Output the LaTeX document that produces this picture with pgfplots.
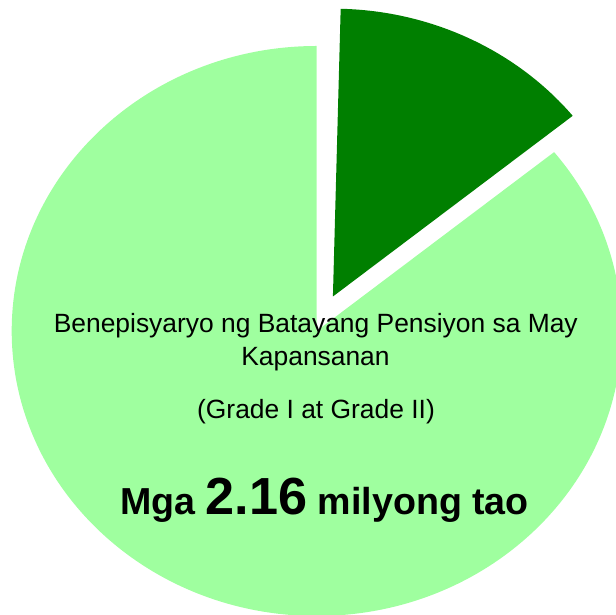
\documentclass[border=0pt]{standalone}
\usepackage{pgfplots}
\pgfplotsset{compat=1.18}
\usepackage{pgfplotstable}
\usepackage{fontspec}
\setmainfont{Liberation Sans}
\definecolor{lightg}{HTML}{9FFF9F}
\definecolor{darkg}{HTML}{007F00}

\pgfplotstableread{
label value
GradeIatII 85.8
Iba 13.8
Puwang 0.4
}\piedata

\begin{document}
\begin{tikzpicture}
\pgfplotstablegetelem{0}{value}\of\piedata \let\vA\pgfplotsretval
\pgfplotstablegetelem{1}{value}\of\piedata \let\vB\pgfplotsretval
\pgfplotstablegetelem{2}{value}\of\piedata \let\vC\pgfplotsretval
% geometry (pixel units, y up)
\pgfmathsetmacro{\cx}{316.7}
\pgfmathsetmacro{\cy}{284}
\pgfmathsetmacro{\rx}{305}
\pgfmathsetmacro{\ry}{285}
% light slice
\pgfmathsetmacro{\aS}{90}
\pgfmathsetmacro{\aE}{90+3.6*\vA}
% dark slice
\pgfmathsetmacro{\bE}{90-3.6*\vC}
\pgfmathsetmacro{\bS}{\bE-3.6*\vB}
\pgfmathsetmacro{\bM}{(\bS+\bE)/2}
\pgfmathsetmacro{\dx}{\cx+0.12*\rx*cos(\bM)}
\pgfmathsetmacro{\dy}{\cy+0.135*\ry*sin(\bM)}
\pgfmathsetmacro{\pAx}{\cx+\rx*cos(\aS)}
\pgfmathsetmacro{\pAy}{\cy+\ry*sin(\aS)}
\pgfmathsetmacro{\pBx}{\dx+1.01*\rx*cos(\bS)}
\pgfmathsetmacro{\pBy}{\dy+1.01*\ry*sin(\bS)}
\begin{axis}[
  width=308pt, height=307.5pt, scale only axis,
  xmin=0, xmax=616, ymin=0, ymax=615,
  hide axis,
]
\fill[lightg] (axis cs:\cx,\cy) -- (axis cs:\pAx,\pAy)
  arc[start angle=\aS, end angle=\aE, x radius=152.5pt, y radius=142.5pt] -- cycle;
\fill[darkg] (axis cs:\dx,\dy) -- (axis cs:\pBx,\pBy)
  arc[start angle=\bS, end angle=\bE, x radius=154pt, y radius=143.9pt] -- cycle;
\node[anchor=base, inner sep=0pt] at (axis cs:315.8,282.7)
  {\fontsize{13.2}{14}\selectfont Benepisyaryo ng Batayang Pensiyon sa May};
\node[anchor=base, inner sep=0pt] at (axis cs:315.5,249.3)
  {\fontsize{13.2}{14}\selectfont Kapansanan};
\node[anchor=base, inner sep=0pt] at (axis cs:316,196)
  {\fontsize{13.2}{14}\selectfont (Grade I at Grade II)};
\node[anchor=base, inner sep=0pt] at (axis cs:324.5,100)
  {\bfseries\fontsize{18.8}{20}\selectfont Mga {\fontsize{26.1}{28}\selectfont 2.16} milyong tao};
\end{axis}
\pgfresetboundingbox
\useasboundingbox (current axis.south west) rectangle (current axis.north east);
\end{tikzpicture}
\end{document}
